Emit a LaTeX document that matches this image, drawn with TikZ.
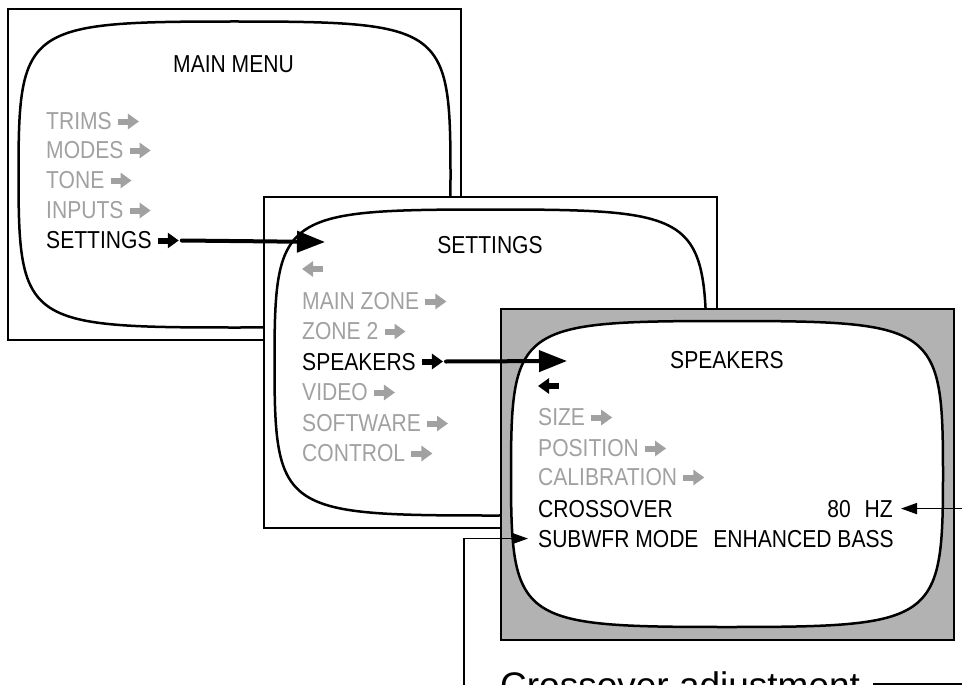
\documentclass[tikz,border=0pt]{standalone}
\usepackage{fontspec}
\setmainfont{Liberation Sans}
\newfontfamily\osdfont[FakeStretch=0.86]{Liberation Sans}
\usetikzlibrary{arrows.meta}

\colorlet{dimtext}{black!37}
\colorlet{bezel}{black!30}

% rounded TV screen inside a menu panel, centred on the panel node
\newcommand\tvscreen[2]{%
  \draw[screen, fill=#2, shift={(#1.center)}]
    (216,0) .. controls (216,148) and (209,153) .. (0,153)
    .. controls (-209,153) and (-216,148) .. (-216,0)
    .. controls (-216,-148) and (-209,-153) .. (0,-153)
    .. controls (209,-153) and (216,-148) .. (216,0) -- cycle;}

\begin{document}
\begin{tikzpicture}[
  x=1pt, y=-1pt,
  panel/.style={draw, line width=2pt, fill=white, minimum width=453pt, minimum height=331pt, inner sep=0pt},
  screen/.style={draw, line width=2.5pt},
  item/.style={anchor=base west, inner sep=0pt, font=\osdfont\fontsize{24.5}{29}\selectfont},
  head/.style={item, anchor=base},
  dim/.style={text=dimtext},
  sel/.style={line width=6pt, -{Triangle[length=11pt,width=15pt]}},
  big/.style={line width=4pt, line cap=round, -{Triangle[length=28pt,width=21pt]}},
  lead/.style={line width=1.6pt, -{Triangle[length=16pt,width=11pt]}},
]
  \useasboundingbox (0,0) rectangle (962,685);
  \clip (0,0) rectangle (962,685);

  % main menu
  \node[panel] (menu) at (234.5,174.5) {};
  \tvscreen{menu}{white}
  \node[head] (menuhd) at (233.5,73) {MAIN MENU};
  \foreach \n/\y/\t in {trims/129/TRIMS, modes/158/MODES, tone/188/TONE, inputs/218/INPUTS} {
    \node[item, dim] (\n) at (46,\y) {\t};
    \draw[sel, dimtext] ([xshift=6pt,yshift=7.5pt]\n.base east) -- ++(21,0);
  }
  \node[item] (settings) at (46,248) {SETTINGS};
  \draw[sel] ([xshift=6pt,yshift=7.5pt]settings.base east) -- ++(21,0) coordinate (settingsout);

  % settings menu
  \node[panel] (setup) at (490.5,362.5) {};
  \tvscreen{setup}{white}
  \node[head] (setuphd) at (490,253) {SETTINGS};
  \coordinate (setupin) at (325,242);
  \draw[big] ([xshift=3pt]settingsout) -- (setupin);
  \coordinate (setupback) at (302,269);
  \draw[sel, dimtext] ([xshift=21pt]setupback) -- (setupback);
  \foreach \n/\y/\t in {mainzone/309/MAIN ZONE, zonetwo/339/ZONE 2} {
    \node[item, dim] (\n) at (302,\y) {\t};
    \draw[sel, dimtext] ([xshift=6pt,yshift=7.5pt]\n.base east) -- ++(21,0);
  }
  \node[item] (speakers) at (302,370) {SPEAKERS};
  \draw[sel] ([xshift=6pt,yshift=8.5pt]speakers.base east) -- ++(21,0) coordinate (speakersout);
  \foreach \n/\y/\t in {video/400/VIDEO, software/431/SOFTWARE, control/461/CONTROL} {
    \node[item, dim] (\n) at (302,\y) {\t};
    \draw[sel, dimtext] ([xshift=6pt,yshift=7.5pt]\n.base east) -- ++(21,0);
  }

  % speakers menu
  \node[panel, fill=bezel] (spk) at (727,474) {};
  \tvscreen{spk}{white}
  \node[head] (spkhd) at (727,368) {SPEAKERS};
  \coordinate (spkin) at (567,361);
  \draw[big] ([xshift=3pt]speakersout) -- (spkin);
  \coordinate (spkback) at (538,386);
  \draw[sel] ([xshift=21pt]spkback) -- (spkback);
  \foreach \n/\y/\t in {size/425/SIZE, position/456/POSITION, calib/485/CALIBRATION} {
    \node[item, dim] (\n) at (538,\y) {\t};
    \draw[sel, dimtext] ([xshift=6pt,yshift=7.5pt]\n.base east) -- ++(21,0);
  }
  \node[item] (xover) at (538,517) {CROSSOVER};
  \node[item, anchor=base east] (xoverval) at (893,517) {80\hspace{8pt} HZ};
  \node[item] (subwfr) at (538,547) {SUBWFR MODE\hspace{9pt} ENHANCED BASS};

  % call-outs
  \node[anchor=base west, inner sep=0pt, font=\fontsize{37}{44}\selectfont] (note) at (500,698.5) {Crossover adjustment};
  \draw[line width=1.2pt] ([xshift=13pt,yshift=5pt]note.east) -- ++(120,0);
  \draw[lead] ([xshift=80pt]xoverval.east) -- ([xshift=8pt]xoverval.east);
  \coordinate (subin) at (464,700);
  \draw[lead] (subin) |- ([xshift=-10pt]subwfr.west);
\end{tikzpicture}
\end{document}
